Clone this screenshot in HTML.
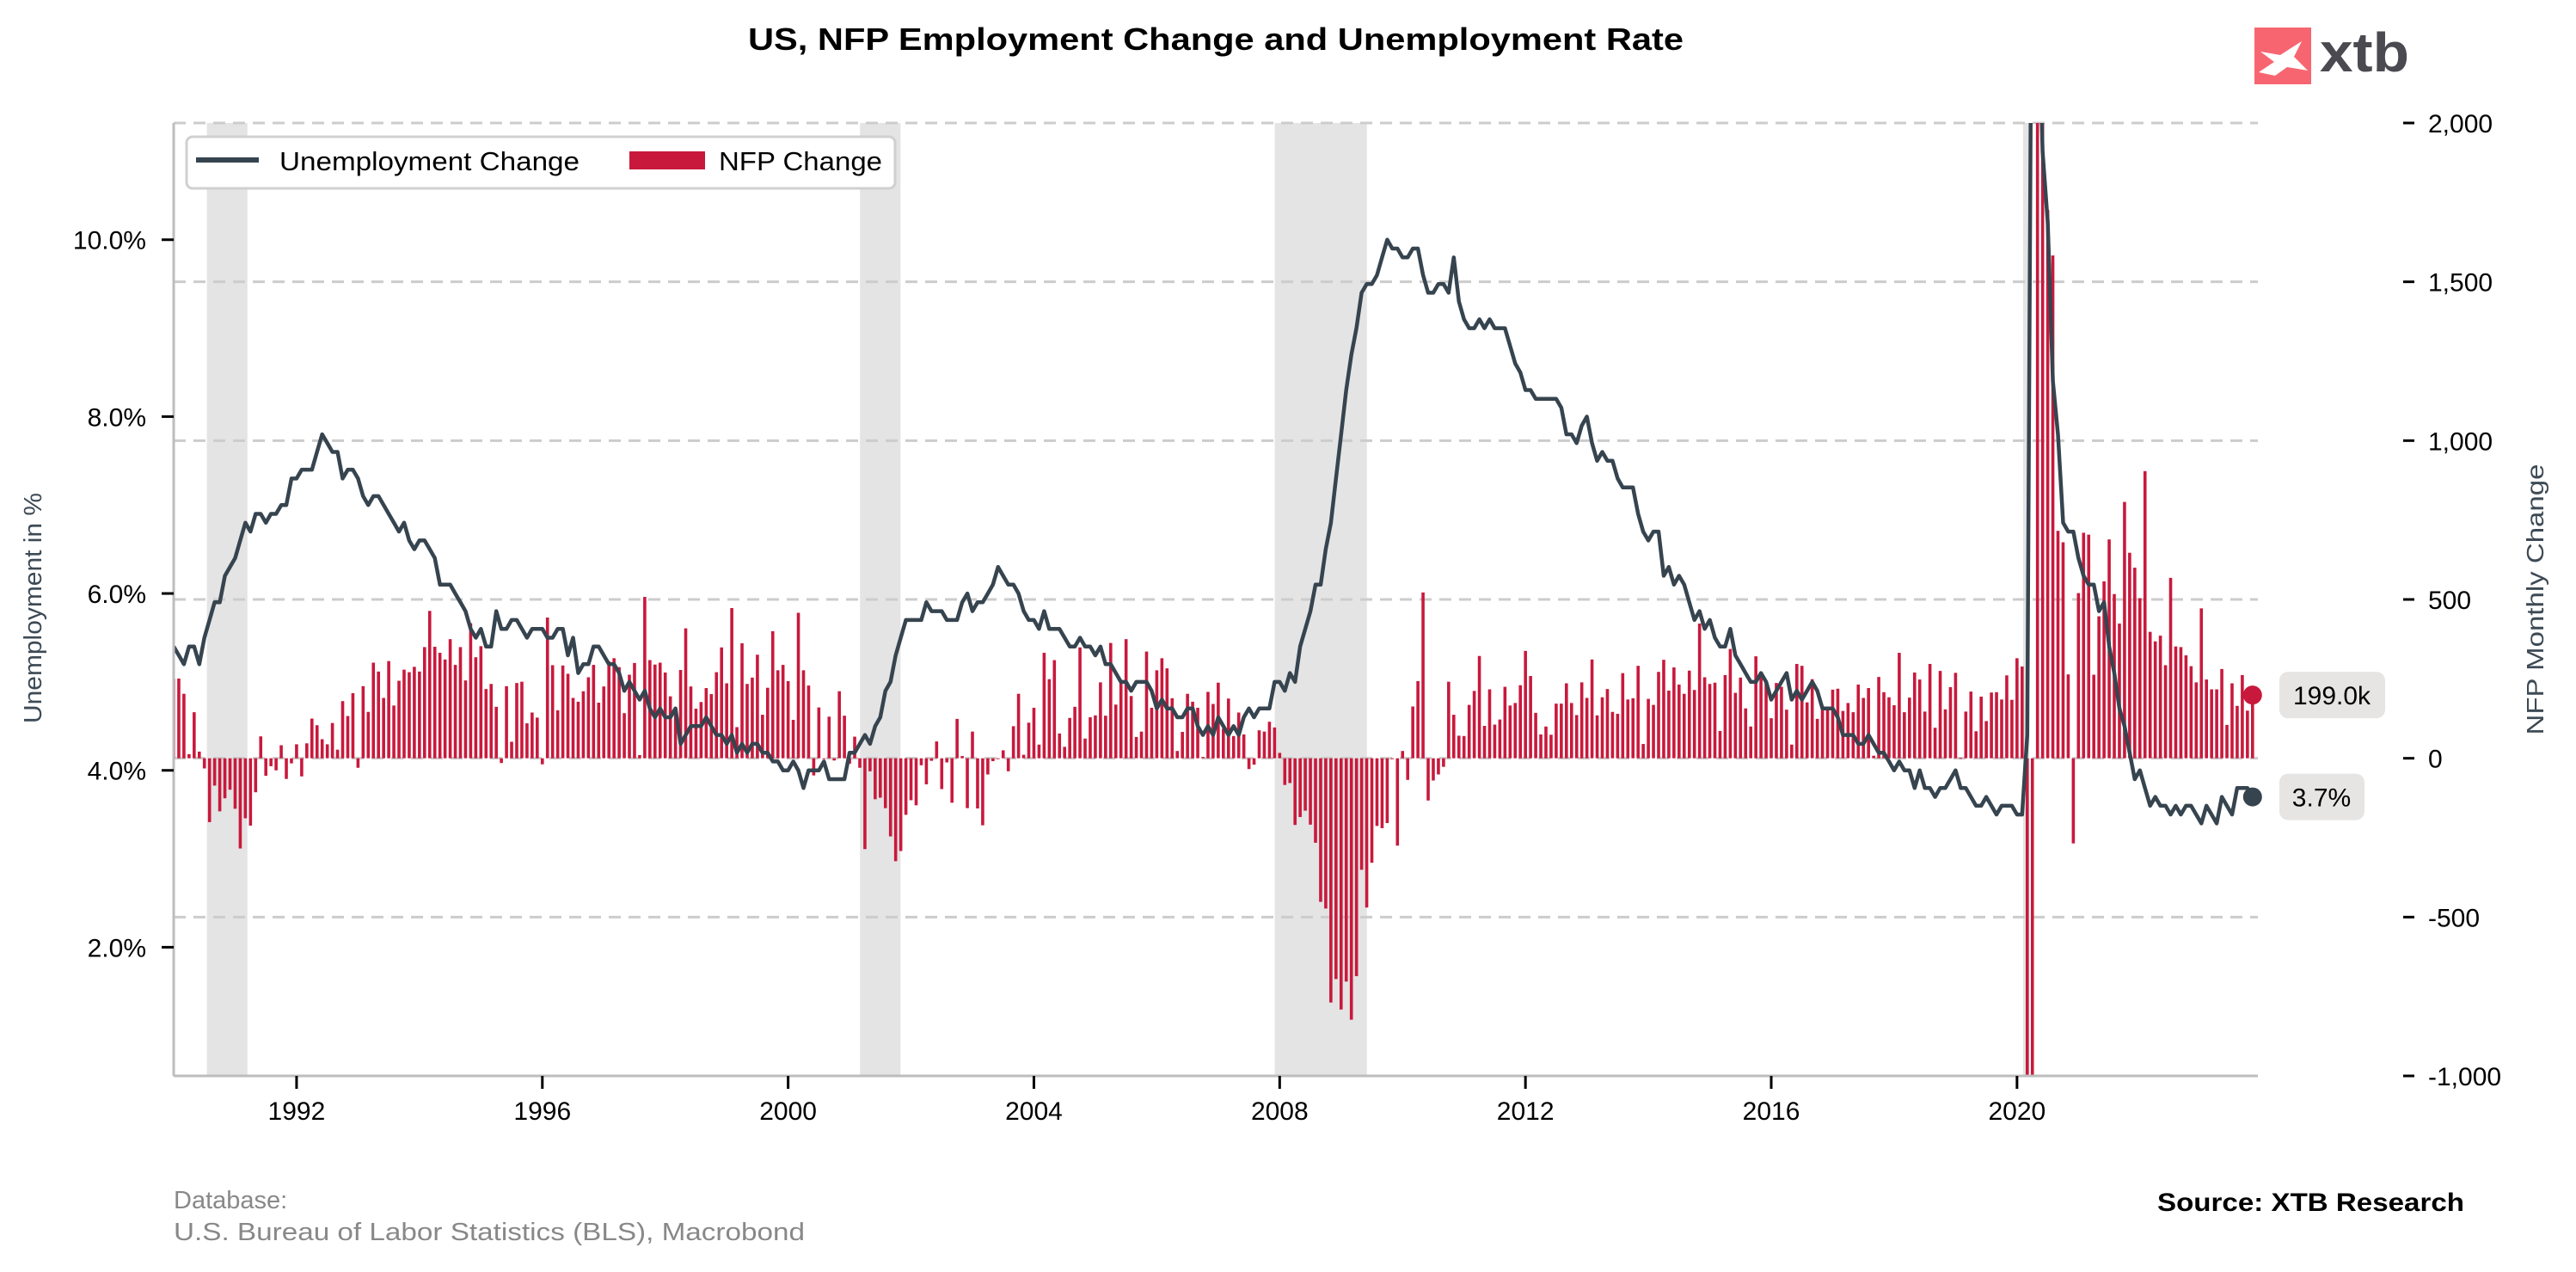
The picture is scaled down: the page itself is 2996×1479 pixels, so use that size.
<!DOCTYPE html>
<html><head><meta charset="utf-8">
<style>
html,body{margin:0;padding:0;background:#fff;overflow:hidden;width:2996px;height:1479px;}
svg{display:block;font-family:"Liberation Sans",Arial,sans-serif;}
</style></head>
<body>
<svg id="chart" width="2996" height="1479" viewBox="0 0 2996 1479" xmlns="http://www.w3.org/2000/svg">
  <defs>
    <clipPath id="plotclip"><rect x="202" y="143" width="2424" height="1108"/></clipPath>
  </defs>
  <rect x="0" y="0" width="2996" height="1479" fill="#fff"/>
  <text x="1414" y="58" text-anchor="middle" font-size="36" font-weight="bold" fill="#000" textLength="1088" lengthAdjust="spacingAndGlyphs">US, NFP Employment Change and Unemployment Rate</text>
  <g>
    <rect x="2622" y="32" width="66" height="66" fill="#f76670"/>
    <path d="M2629 60 L2652 64 L2677 48 L2668 66 L2684 82 L2660 78 L2646 88 L2627 84 L2645 72 Z" fill="#fff"/>
    <text x="2698" y="83" font-size="64" font-weight="bold" fill="#4a4a50" textLength="104" lengthAdjust="spacingAndGlyphs">xtb</text>
  </g>
  <g id="recessions"></g>
  <g id="grid"></g>
  <g id="bars" clip-path="url(#plotclip)"></g>
  <g id="line" clip-path="url(#plotclip)"></g>
  <line x1="202" y1="143" x2="202" y2="1251" stroke="#bdbdbd" stroke-width="3"/>
  <line x1="202" y1="1251" x2="2626" y2="1251" stroke="#bdbdbd" stroke-width="3"/>
  <g id="xaxis"></g>
  <g id="yleft"></g>
  <g id="yright"></g>
  <text transform="translate(48,707) rotate(-90)" text-anchor="middle" font-size="29" fill="#3d4a55" textLength="268" lengthAdjust="spacingAndGlyphs">Unemployment in %</text>
  <text transform="translate(2958,697) rotate(-90)" text-anchor="middle" font-size="28" fill="#3d4a55" textLength="315" lengthAdjust="spacingAndGlyphs">NFP Monthly Change</text>
  <g>
    <rect x="217" y="159" width="824" height="60" rx="7" fill="#fff" stroke="#d0d0d0" stroke-width="3"/>
    <line x1="228" y1="186" x2="301" y2="186" stroke="#36444f" stroke-width="6"/>
    <text x="325" y="198" font-size="31" fill="#000" textLength="349" lengthAdjust="spacingAndGlyphs">Unemployment Change</text>
    <rect x="732" y="176" width="88" height="21" fill="#c8193c"/>
    <text x="836" y="198" font-size="31" fill="#000" textLength="190" lengthAdjust="spacingAndGlyphs">NFP Change</text>
  </g>
  <g id="annot"></g>
  <text x="202" y="1405" font-size="29" fill="#888">Database:</text>
  <text x="202" y="1442" font-size="29" fill="#888" textLength="734" lengthAdjust="spacingAndGlyphs">U.S. Bureau of Labor Statistics (BLS), Macrobond</text>
  <text x="2509" y="1408" font-size="30" font-weight="bold" fill="#000" textLength="357" lengthAdjust="spacingAndGlyphs">Source: XTB Research</text>
</svg>
<script>
const startYear = 1990;
const unemploymentRate = [
5.4,5.3,5.2,5.4,5.4,5.2,5.5,5.7,5.9,5.9,6.2,6.3,
6.4,6.6,6.8,6.7,6.9,6.9,6.8,6.9,6.9,7.0,7.0,7.3,
7.3,7.4,7.4,7.4,7.6,7.8,7.7,7.6,7.6,7.3,7.4,7.4,
7.3,7.1,7.0,7.1,7.1,7.0,6.9,6.8,6.7,6.8,6.6,6.5,
6.6,6.6,6.5,6.4,6.1,6.1,6.1,6.0,5.9,5.8,5.6,5.5,
5.6,5.4,5.4,5.8,5.6,5.6,5.7,5.7,5.6,5.5,5.6,5.6,
5.6,5.5,5.5,5.6,5.6,5.3,5.5,5.1,5.2,5.2,5.4,5.4,
5.3,5.2,5.2,5.1,4.9,5.0,4.9,4.8,4.9,4.7,4.6,4.7,
4.6,4.6,4.7,4.3,4.4,4.5,4.5,4.5,4.6,4.5,4.4,4.4,
4.3,4.4,4.2,4.3,4.2,4.3,4.3,4.2,4.2,4.1,4.1,4.0,
4.0,4.1,4.0,3.8,4.0,4.0,4.0,4.1,3.9,3.9,3.9,3.9,
4.2,4.2,4.3,4.4,4.3,4.5,4.6,4.9,5.0,5.3,5.5,5.7,
5.7,5.7,5.7,5.9,5.8,5.8,5.8,5.7,5.7,5.7,5.9,6.0,
5.8,5.9,5.9,6.0,6.1,6.3,6.2,6.1,6.1,6.0,5.8,5.7,
5.7,5.6,5.8,5.6,5.6,5.6,5.5,5.4,5.4,5.5,5.4,5.4,
5.3,5.4,5.2,5.2,5.1,5.0,5.0,4.9,5.0,5.0,5.0,4.9,
4.7,4.8,4.7,4.7,4.6,4.6,4.7,4.7,4.5,4.4,4.5,4.4,
4.6,4.5,4.4,4.5,4.4,4.6,4.7,4.6,4.7,4.7,4.7,5.0,
5.0,4.9,5.1,5.0,5.4,5.6,5.8,6.1,6.1,6.5,6.8,7.3,
7.8,8.3,8.7,9.0,9.4,9.5,9.5,9.6,9.8,10.0,9.9,9.9,
9.8,9.8,9.9,9.9,9.6,9.4,9.4,9.5,9.5,9.4,9.8,9.3,
9.1,9.0,9.0,9.1,9.0,9.1,9.0,9.0,9.0,8.8,8.6,8.5,
8.3,8.3,8.2,8.2,8.2,8.2,8.2,8.1,7.8,7.8,7.7,7.9,
8.0,7.7,7.5,7.6,7.5,7.5,7.3,7.2,7.2,7.2,6.9,6.7,
6.6,6.7,6.7,6.2,6.3,6.1,6.2,6.1,5.9,5.7,5.8,5.6,
5.7,5.5,5.4,5.4,5.6,5.3,5.2,5.1,5.0,5.0,5.1,5.0,
4.8,4.9,5.0,5.1,4.8,4.9,4.8,4.9,5.0,4.9,4.7,4.7,
4.7,4.6,4.4,4.4,4.4,4.3,4.3,4.4,4.3,4.2,4.2,4.1,
4.0,4.1,4.0,4.0,3.8,4.0,3.8,3.8,3.7,3.8,3.8,3.9,
4.0,3.8,3.8,3.7,3.6,3.6,3.7,3.6,3.5,3.6,3.6,3.6,
3.5,3.5,4.4,14.8,13.2,11.0,10.2,8.4,7.8,6.8,6.7,6.7,
6.4,6.2,6.1,6.1,5.8,5.9,5.4,5.1,4.7,4.5,4.2,3.9,
4.0,3.8,3.6,3.7,3.6,3.6,3.5,3.6,3.5,3.6,3.6,3.5,
3.4,3.6,3.5,3.4,3.7,3.6,3.5,3.8,3.8,3.8,3.7
];
const nfpChange = [
250,251,203,13,145,21,-32,-201,-86,-167,-126,-99,
-159,-284,-189,-212,-107,69,-55,-25,-38,41,-65,-16,
44,-57,47,125,104,60,44,111,27,180,133,205,
-30,227,146,301,273,190,306,166,244,279,271,288,
273,350,464,351,332,311,375,294,350,245,425,318,
353,218,234,162,-15,227,52,237,241,110,144,128,
-19,443,293,151,292,266,190,178,211,255,294,175,
226,305,315,287,142,263,300,10,508,309,295,301,
270,195,154,278,409,226,156,177,221,202,271,349,
236,473,98,362,234,254,326,137,222,400,277,294,
243,121,458,277,229,-54,160,-2,131,-7,211,134,
-17,68,-30,-286,-41,-129,-124,-157,-246,-324,-292,-178,
-132,-148,-22,-82,-8,53,-97,-13,-140,124,7,-157,
84,-158,-211,-51,-9,-2,25,-41,101,203,11,112,
159,43,332,249,309,78,36,127,162,349,62,129,
135,239,134,363,169,245,375,196,67,84,336,159,
277,315,283,189,23,83,203,178,159,4,209,171,
238,93,188,70,144,75,-34,-20,88,84,115,97,
17,-84,-78,-210,-185,-165,-209,-266,-452,-473,-769,-695,
-791,-703,-823,-686,-351,-470,-329,-213,-220,-204,-2,-275,
23,-68,163,243,522,-133,-70,-51,-27,241,137,71,
70,168,212,322,102,217,106,122,225,166,174,230,
338,259,143,75,100,74,172,172,236,174,136,239,
190,311,135,192,218,146,140,268,185,189,291,45,
187,168,272,310,213,286,232,203,276,215,424,255,
234,238,86,262,344,206,254,157,100,321,272,239,
126,237,225,153,43,297,291,176,249,124,164,155,
216,219,149,174,145,232,190,221,8,256,208,192,
167,332,145,191,270,248,147,297,96,275,154,224,
269,1,147,210,85,194,117,207,208,185,261,184,
315,289,-1683,-20679,2833,4846,1726,1583,716,680,264,-268,
520,710,704,263,447,557,689,517,424,807,647,600,
504,904,398,368,386,293,568,352,350,324,290,239,
472,248,217,217,281,105,236,165,262,150,199
];
const recessionStarts = [1990.54, 2001.17, 2007.92, 2020.10];
const recessionEnds = [1991.2, 2001.83, 2009.42, 2020.20];
const xTickYears = [1992,1996,2000,2004,2008,2012,2016,2020];
const leftTicks = [2,4,6,8,10];
const rightTicks = [-1000,-500,0,500,1000,1500,2000];
const rightTickLabels = ["-1,000","-500","0","500","1,000","1,500","2,000"];

const NS = "http://www.w3.org/2000/svg";
const X0 = 202, X1 = 2626, Y0 = 143, Y1 = 1251;
const xMin = 1990.0, xMax = 2023.92;
function xScale(t){ return X0 + (t - xMin) / (xMax - xMin) * (X1 - X0); }
const lMin = 0.545, lMax = 11.32;
function yLeft(v){ return Y1 - (v - lMin) / (lMax - lMin) * (Y1 - Y0); }
const rMin = -1000, rMax = 2000;
function yRight(v){ return Y1 - (v - rMin) / (rMax - rMin) * (Y1 - Y0); }
function mk(tag, attrs, parent){
  const e = document.createElementNS(NS, tag);
  for (const k in attrs) e.setAttribute(k, attrs[k]);
  parent.appendChild(e);
  return e;
}
function monthT(i){ return startYear + i / 12; }

const gRec = document.getElementById('recessions');
for (let i = 0; i < recessionStarts.length; i++){
  const r = mk('rect', {x: xScale(recessionStarts[i]), y: Y0, width: xScale(recessionEnds[i]) - xScale(recessionStarts[i]), height: Y1 - Y0, fill: '#e4e4e4'}, gRec);
  
  
}

const gGrid = document.getElementById('grid');
rightTicks.forEach(v => {
  const l = mk('line', {x1: X0, x2: X1, y1: yRight(v), y2: yRight(v), stroke: '#cccccc', 'stroke-width': 3, 'stroke-dasharray': '14 9'}, gGrid);
  
  
});

const gBars = document.getElementById('bars');
const bw = 3.6;
nfpChange.forEach((v, i) => {
  const cx = xScale(monthT(i));
  const y0 = yRight(0), yv = yRight(v);
  const b = mk('rect', {x: cx - bw/2, y: Math.min(y0, yv), width: bw, height: Math.max(1, Math.abs(yv - y0)), fill: '#c8193c'}, gBars);
  
  
});

const gLine = document.getElementById('line');
let d = '';
unemploymentRate.forEach((v, i) => {
  d += (i ? 'L' : 'M') + xScale(monthT(i)).toFixed(1) + ' ' + yLeft(v).toFixed(1);
});
const pl = mk('path', {d: d, fill: 'none', stroke: '#36444f', 'stroke-width': 4.5, 'stroke-linejoin': 'round'}, gLine);



const gX = document.getElementById('xaxis');
xTickYears.forEach(yr => {
  const x = xScale(yr);
  const t = mk('line', {x1: x, x2: x, y1: Y1, y2: Y1 + 15, stroke: '#000', 'stroke-width': 3}, gX);
  
  
  const tx = mk('text', {x: x, y: 1302, 'text-anchor': 'middle', 'font-size': 30, fill: '#000'}, gX);
  tx.textContent = yr;
  
  
});

const gL = document.getElementById('yleft');
leftTicks.forEach(v => {
  const y = yLeft(v);
  const t = mk('line', {x1: X0 - 14, x2: X0, y1: y, y2: y, stroke: '#000', 'stroke-width': 3}, gL);
  
  
  const tx = mk('text', {x: 170, y: y + 11, 'text-anchor': 'end', 'font-size': 30, fill: '#000'}, gL);
  tx.textContent = v.toFixed(1) + '%';
  
  
});

const gR = document.getElementById('yright');
rightTicks.forEach((v, i) => {
  const y = yRight(v);
  const t = mk('line', {x1: 2795, x2: 2808, y1: y, y2: y, stroke: '#000', 'stroke-width': 3}, gR);
  
  
  const tx = mk('text', {x: 2824, y: y + 11, 'font-size': 30, fill: '#000'}, gR);
  tx.textContent = rightTickLabels[i];
  
  
});

const gA = document.getElementById('annot');
const lastI = nfpChange.length - 1;
const lastNfp = nfpChange[lastI];
const lastU = unemploymentRate[unemploymentRate.length - 1];
const lx = xScale(monthT(lastI));
const c1 = mk('circle', {cx: lx, cy: yRight(lastNfp), r: 11, fill: '#c8193c'}, gA);


const b1 = mk('rect', {x: 2651, y: yRight(lastNfp) - 27, width: 123, height: 54, rx: 10, fill: '#e6e5e3'}, gA);


const t1 = mk('text', {x: 2712, y: yRight(lastNfp) + 11, 'text-anchor': 'middle', 'font-size': 30, fill: '#000'}, gA);
t1.textContent = lastNfp.toFixed(1) + 'k';


const c2 = mk('circle', {cx: lx, cy: yLeft(lastU), r: 11, fill: '#36444f'}, gA);


const b2 = mk('rect', {x: 2651, y: yLeft(lastU) - 27, width: 99, height: 54, rx: 10, fill: '#e6e5e3'}, gA);


const t2 = mk('text', {x: 2700, y: yLeft(lastU) + 11, 'text-anchor': 'middle', 'font-size': 30, fill: '#000'}, gA);
t2.textContent = lastU.toFixed(1) + '%';


</script>
</body></html>
